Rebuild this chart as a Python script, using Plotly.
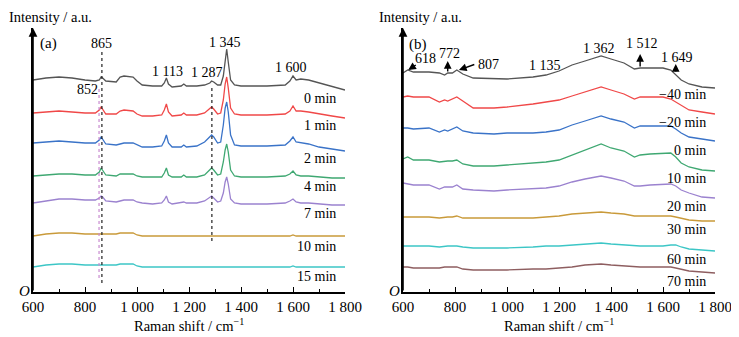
import plotly.graph_objects as go

# ---------------- data (intensity, a.u., offsets included) ----------------
left_shift = [600, 650, 700, 750, 800, 840, 855, 862, 868, 880, 920, 935, 950, 985, 1000, 1020, 1060,
              1095, 1105, 1113, 1121, 1135, 1170, 1180, 1190, 1230, 1260, 1280, 1287, 1295, 1310, 1322,
              1332, 1339, 1345, 1351, 1360, 1375, 1400, 1500, 1570, 1588, 1600, 1612, 1630, 1660, 1700,
              1750, 1800]
left_0min = [212, 214, 215, 214, 212, 211, 212, 215, 214, 211, 210, 215, 216, 215, 211, 207, 206, 206, 209,
             214, 208, 205, 206, 208, 206, 206, 207, 209, 211, 210, 207, 207, 216, 232, 243, 230, 212, 207,
             206, 206, 207, 211, 216, 212, 213, 212, 209, 205, 202]
left_1min = [179, 180, 181, 180, 179, 179, 182, 185, 183, 178, 178, 181, 182, 181, 178, 176, 176, 177, 182,
             188, 180, 176, 177, 179, 177, 177, 179, 183, 185, 183, 178, 179, 192, 208, 215, 204, 184, 178,
             177, 177, 178, 181, 186, 181, 181, 180, 178, 176, 174]
left_2min = [149, 150, 151, 150, 149, 149, 152, 155, 153, 148, 147, 148, 149, 149, 147, 145, 145, 146, 151,
             157, 149, 145, 145, 147, 145, 146, 150, 155, 157, 155, 149, 150, 167, 184, 190, 180, 157, 147,
             146, 146, 147, 151, 155, 150, 149, 148, 145, 143, 141]
left_4min = [116, 117, 118, 118, 117, 117, 120, 124, 122, 117, 116, 118, 118, 118, 116, 115, 115, 115, 119,
             124, 117, 115, 115, 117, 115, 115, 117, 122, 124, 122, 117, 118, 130, 142, 148, 140, 122, 116,
             115, 115, 116, 118, 121, 117, 116, 116, 115, 114, 114]
left_7min = [89, 91, 93, 93, 92, 92, 94, 96, 95, 91, 90, 91, 92, 92, 90, 89, 88, 89, 92,
             96, 90, 88, 89, 90, 89, 89, 91, 95, 96, 94, 90, 91, 99, 110, 115, 108, 93, 89,
             88, 88, 89, 91, 93, 90, 89, 89, 88, 87, 87]
left_10min = [56, 58, 59, 59, 58, 58, 58, 58, 58, 58, 58, 59, 59, 59, 57, 56, 56, 56, 56,
              56, 56, 56, 56, 56, 56, 56, 56, 56, 56, 56, 56, 56, 56, 56, 56, 56, 56, 56,
              56, 56, 56, 56, 57, 56, 56, 56, 56, 56, 56]
left_15min = [25, 27, 28, 28, 27, 27, 27, 27, 27, 27, 27, 28, 28, 28, 26, 25, 25, 25, 25,
              25, 25, 25, 25, 25, 25, 25, 25, 25, 25, 25, 25, 25, 25, 25, 25, 25, 25, 25,
              25, 25, 25, 25, 26, 25, 25, 25, 25, 25, 25]
left_names = ["0 min", "1 min", "2 min", "4 min", "7 min", "10 min", "15 min"]
left_label_y = [194, 167, 134, 106, 79, 46, 16]

right_shift = [600, 618, 640, 700, 740, 760, 772, 790, 807, 830, 870, 950, 1000, 1100, 1150, 1200, 1250,
               1300, 1362, 1400, 1450, 1490, 1512, 1550, 1600, 1630, 1649, 1670, 1700, 1750, 1800]
right_m40 = [219, 222, 220, 220, 219, 217, 219, 219, 222, 218, 214, 213, 213, 215, 217, 221, 227,
             231, 236, 233, 229, 223, 224, 224, 224, 222, 217, 212, 208, 205, 204]
right_m20 = [195, 196, 195, 195, 190, 192, 191, 193, 195, 191, 184, 184, 185, 188, 190, 192, 196,
             200, 205, 202, 198, 193, 195, 195, 195, 193, 190, 186, 182, 180, 178]
right_0 = [164, 164, 163, 164, 160, 162, 161, 163, 165, 161, 159, 158, 159, 159, 160, 162, 167,
           171, 176, 173, 170, 164, 166, 166, 166, 166, 163, 159, 155, 153, 151]
right_10 = [133, 135, 132, 132, 130, 131, 131, 131, 132, 128, 126, 126, 127, 129, 130, 132, 137,
            142, 148, 144, 141, 135, 137, 138, 139, 139, 135, 129, 125, 122, 121]
right_20 = [109, 108, 107, 107, 103, 105, 105, 105, 107, 103, 102, 101, 102, 103, 104, 106, 110,
            113, 116, 114, 111, 106, 106, 107, 108, 108, 106, 102, 99, 95, 94]
right_30 = [75, 75, 75, 75, 74, 75, 75, 75, 76, 74, 74, 74, 74, 74, 75, 76, 78,
            79, 80, 79, 78, 76, 76, 76, 76, 76, 75, 74, 72, 71, 71]
right_60 = [46, 46, 46, 46, 45, 46, 46, 46, 46, 45, 44, 44, 44, 45, 46, 46, 47,
            48, 49, 48, 47, 46, 46, 46, 46, 47, 47, 45, 43, 42, 41]
right_70 = [25, 25, 24, 24, 24, 25, 25, 25, 25, 23, 22, 22, 22, 23, 23, 24, 25,
            27, 28, 27, 26, 25, 25, 25, 25, 25, 24, 23, 21, 20, 19]
right_names = ["\u221240 min", "\u221220 min", "0 min", "10 min", "20 min", "30 min", "60 min", "70 min"]
right_label_y = [198, 170, 142, 114, 86, 63, 33, 11]

# reference marker lines (shift, bottom, top)
ref_852 = [854, 14, 204]
ref_865 = [865, 9, 242]
ref_1287 = [1288, 51, 207]

tick_vals = [600, 800, 1000, 1200, 1400, 1600, 1800]
tick_text = ["600", "800", "1 000", "1 200", "1 400", "1 600", "1 800"]

# ---------------- styling ----------------
OFF = 8                      # page body margin of the html page
W, H = 739 - OFF, 337 - OFF  # figure size so it ends at the window edge
FONT = "Liberation Serif"
left_colors = ["#555555", "#f04848", "#3a73c8", "#3fa872", "#9b82cf", "#c99a3a", "#3cc6c6"]
right_colors = ["#555555", "#f04848", "#3a73c8", "#3fa872", "#9b82cf", "#c99a3a", "#3cc6c6", "#8e5e60"]

def px(v):  # window pixel -> paper fraction
    return (v - OFF) / W

def py(v):
    return 1 - (v - OFF) / H

fig = go.Figure()
left_series = [left_0min, left_1min, left_2min, left_4min, left_7min, left_10min, left_15min]
for s, c, n in zip(left_series, left_colors, left_names):
    fig.add_trace(go.Scatter(x=left_shift, y=s, mode="lines", line=dict(color=c, width=1.3),
                             name=n, xaxis="x", yaxis="y", showlegend=False))
right_series = [right_m40, right_m20, right_0, right_10, right_20, right_30, right_60, right_70]
for s, c, n in zip(right_series, right_colors, right_names):
    fig.add_trace(go.Scatter(x=right_shift, y=s, mode="lines", line=dict(color=c, width=1.3),
                             name=n, xaxis="x2", yaxis="y2", showlegend=False))

for ref, col in [(ref_852, "#c98ad0"), (ref_865, "#222222"), (ref_1287, "#222222")]:
    fig.add_trace(go.Scatter(x=[ref[0], ref[0]], y=[ref[1], ref[2]], mode="lines",
                             line=dict(color=col, width=1.2, dash="dot"),
                             xaxis="x", yaxis="y", showlegend=False))

xax = dict(range=[600, 1800], showline=True, linecolor="black", linewidth=1.6, showgrid=False,
           zeroline=False, ticks="inside", ticklen=5, tickwidth=1.3, tickcolor="black",
           tickvals=tick_vals, ticktext=tick_text, automargin=False,
           tickfont=dict(family=FONT, size=15, color="black"),
           minor=dict(ticks="inside", ticklen=3, tickwidth=1.3, tickcolor="black", dtick=100, tick0=600))
yax = dict(range=[0, 264], showline=True, linecolor="black", linewidth=1.6, showgrid=False,
           zeroline=False, showticklabels=False, ticks="", automargin=False)

fig.update_layout(
    width=W, height=H, margin=dict(l=0, r=0, t=0, b=0, autoexpand=False),
    paper_bgcolor="white", plot_bgcolor="white",
    xaxis=dict(xax, domain=[px(33), px(345)], anchor="y"),
    yaxis=dict(yax, domain=[py(292), py(28)], anchor="x"),
    xaxis2=dict(xax, domain=[px(403), px(715)], anchor="y2"),
    yaxis2=dict(yax, domain=[py(292), py(28)], anchor="x2"),
    font=dict(family=FONT, color="black"),
)

ann = []
def text(x, y, t, xr, yr, size=14, xanchor="center", yanchor="middle"):
    ann.append(dict(x=x, y=y, text=t, xref=xr, yref=yr, showarrow=False,
                    xanchor=xanchor, yanchor=yanchor,
                    font=dict(family=FONT, size=size, color="black")))

def arrow(x, y, ax, ay, xr, yr, width=1.4):
    ann.append(dict(x=x, y=y, ax=ax, ay=ay, xref=xr, yref=yr, axref=xr, ayref=yr, text="",
                    showarrow=True, arrowhead=2, arrowsize=1.1, arrowwidth=width, arrowcolor="black"))

# axis arrows (full-length y axes)
arrow(600, 264, 600, 0, "x", "y", 1.6)
arrow(600, 264, 600, 0, "x2", "y2", 1.6)

# left panel texts
text(658, 249, "(a)", "x", "y", 15)
text(865, 249, "865", "x", "y")
text(808, 203, "852", "x", "y")
text(1119, 221, "1 113", "x", "y")
text(1269, 220, "1 287", "x", "y")
text(1338, 250, "1 345", "x", "y")
text(1592, 225, "1 600", "x", "y")
for n, yv in zip(left_names, left_label_y):
    text(1772, yv, n, "x", "y", 14, xanchor="right")

# right panel texts
text(658, 248, "(b)", "x2", "y2", 15)
text(687, 234, "618", "x2", "y2")
text(779, 239, "772", "x2", "y2")
text(927, 228, "807", "x2", "y2")
text(1146, 227, "1 135", "x2", "y2")
text(1354, 244, "1 362", "x2", "y2")
text(1519, 249, "1 512", "x2", "y2")
text(1654, 235, "1 649", "x2", "y2")
arrow(620, 222, 655, 228, "x2", "y2")
arrow(772, 231, 772, 219, "x2", "y2")
arrow(815, 222, 880, 228, "x2", "y2")
arrow(1512, 238, 1512, 224, "x2", "y2")
arrow(1649, 228, 1649, 219, "x2", "y2")
for n, yv in zip(right_names, right_label_y):
    text(1773, yv, n, "x2", "y2", 14, xanchor="right")

# titles & origin
for x0 in (7, 377):
    text(px(x0), py(17), "Intensity / a.u.", "paper", "paper", 14.5, xanchor="left")
for cx in (189, 559):
    text(px(cx), py(325), "Raman shift / cm<sup>\u22121</sup>", "paper", "paper", 14.5)
for ox in (24, 394):
    text(px(ox), py(291), "<i>O</i>", "paper", "paper", 15)

fig.update_layout(annotations=ann)
fig.write_html("out.html")
